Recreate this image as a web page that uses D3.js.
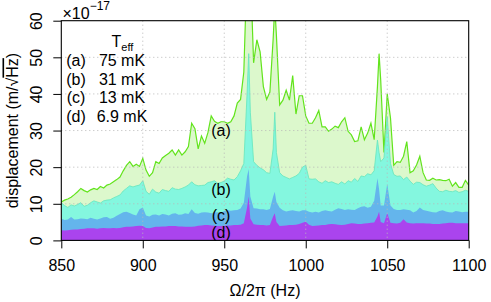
<!DOCTYPE html>
<html>
<head>
<meta charset="utf-8">
<script src="https://cdn.jsdelivr.net/npm/d3@7/dist/d3.min.js"></script>
<style>
    body { margin: 0; background: #fff; }
    text { font-family: "Liberation Sans", Arial, Helvetica, sans-serif; fill: #000; }
</style>
</head>
<body>
<svg id="chart" width="491" height="302"></svg>
<script>
// frequency grid (Hz): 2 Hz steps, plus a point on each narrow peak
var freq = [
    850, 852, 854, 856, 858,
    860, 862, 864, 866, 868,
    870, 872, 874, 876, 878,
    880, 882, 884, 886, 888,
    890, 892, 894, 896, 898,
    900, 902, 904, 906, 908,
    910, 912, 914, 916, 918,
    920, 922, 924, 926, 928,
    930, 932, 934, 936, 938,
    940, 942, 944, 946, 948,
    950, 952, 954, 956, 958,
    960, 962, 964, 965, 966, 968,
    970, 972, 974, 976, 978,
    980, 981, 982, 984, 986, 988,
    990, 992, 994, 996, 998,
    1000, 1002, 1004, 1006, 1008,
    1010, 1012, 1014, 1016, 1018,
    1020, 1022, 1024, 1026, 1028,
    1030, 1032, 1034, 1036, 1038,
    1040, 1042, 1044, 1045, 1046, 1048,
    1050, 1052, 1054, 1056, 1058,
    1060, 1062, 1064, 1066, 1068,
    1070, 1072, 1074, 1076, 1078,
    1080, 1082, 1084, 1086, 1088,
    1090, 1092, 1094, 1096, 1098,
    1100
];

// displacement spectra, units of 1e-17 m/sqrt(Hz)
// (a) Teff = 75 mK
var specA = [
    10.5, 11.0, 11.3, 11.8, 12.5,
    13.3, 14.2, 13.6, 13.2, 13.8,
    14.2, 13.9, 14.7, 14.3, 15.1,
    15.4, 16.0, 16.6, 17.3, 19.0,
    20.5, 21.5, 20.2, 20.8, 20.2,
    22.4, 19.2, 17.5, 18.5, 21.5,
    21.0, 22.5, 23.2, 23.8, 24.7,
    23.3, 24.7, 23.3, 24.2, 25.6,
    32.0, 30.5, 25.0, 28.5, 26.5,
    29.5, 34.0, 32.5, 32.0, 32.4,
    32.4, 32.0, 32.4, 34.0, 37.5,
    38.5, 46.0, 75.0, 80.0, 75.0, 48.5,
    54.8, 51.5, 42.0, 38.5, 40.5,
    55.0, 64.0, 56.0, 37.0, 38.3, 41.0,
    38.3, 45.0, 34.5, 39.5, 39.5,
    34.0, 32.0, 32.0, 33.5, 35.5,
    31.0, 31.0, 29.8, 30.4, 31.2,
    30.8, 32.4, 33.5, 29.8, 28.8,
    27.0, 27.2, 31.0, 27.5, 29.3,
    32.0, 27.5, 42.0, 51.0, 43.8, 24.0,
    40.0, 33.5, 20.5, 21.5, 21.3,
    23.0, 27.0, 18.5, 19.0, 20.6,
    23.0, 18.5, 16.5, 16.4, 17.0,
    16.5, 16.6, 16.4, 16.3, 16.7,
    14.8, 15.8, 14.5, 14.5, 16.4,
    15.1
];
// (b) Teff = 31 mK
var specB = [
    10.3, 9.5, 9.0, 9.7, 9.4,
    9.8, 10.3, 9.3, 9.6, 10.3,
    10.8, 10.5, 10.2, 10.8, 11.0,
    11.1, 11.6, 12.0, 12.4, 13.5,
    14.2, 14.9, 14.6, 14.9, 15.1,
    16.3, 13.4, 12.6, 14.0, 13.2,
    12.9, 13.9, 13.6, 13.4, 14.4,
    14.0, 13.9, 14.2, 14.6, 15.1,
    16.0, 15.2, 14.9, 15.0, 15.1,
    15.8, 16.0, 16.3, 15.6, 15.8,
    16.2, 17.0, 16.7, 16.5, 17.4,
    19.0, 21.0, 40.0, 51.0, 35.0, 21.5,
    20.5, 19.8, 19.3, 18.5, 18.3,
    25.0, 35.0, 24.0, 18.5, 17.6, 17.2,
    16.8, 17.2, 17.6, 18.3, 20.0,
    20.5, 16.8, 16.7, 16.8, 16.0,
    15.6, 16.3, 15.8, 16.0, 15.6,
    15.3, 16.0, 15.4, 16.3, 15.9,
    16.9, 16.1, 17.6, 17.4, 18.2,
    17.9, 19.0, 27.4, 24.0, 21.5, 22.5,
    33.8, 21.0, 18.0, 17.5, 17.6,
    16.6, 17.3, 16.2, 15.3, 15.9,
    15.8, 15.2, 14.8, 15.1, 15.5,
    14.3, 13.4, 13.3, 13.7, 13.4,
    13.3, 13.6, 13.1, 13.3, 13.7,
    13.4
];
// (c) Teff = 13 mK
var specC = [
    6.0, 5.6, 5.7, 6.4, 5.7,
    5.8, 6.0, 5.9, 5.8, 6.2,
    5.9, 5.7, 6.0, 6.3, 6.4,
    5.9, 6.2, 6.7, 7.2, 7.7,
    7.8, 7.5, 7.1, 6.8, 8.5,
    9.0, 6.8, 6.5, 7.0, 7.1,
    6.8, 7.2, 7.1, 6.8, 7.3,
    7.4, 7.0, 7.1, 7.4, 7.2,
    8.5, 7.5, 7.3, 7.6, 7.7,
    7.6, 7.4, 7.6, 7.7, 7.5,
    8.0, 8.3, 8.1, 8.2, 8.3,
    8.7, 10.3, 17.5, 19.5, 12.0, 8.8,
    8.7, 8.5, 8.5, 8.3, 8.6,
    12.0, 13.3, 10.5, 8.9, 8.2, 7.9,
    8.1, 8.2, 8.0, 7.9, 8.2,
    8.2, 7.8, 7.6, 7.8, 7.6,
    8.0, 8.2, 8.0, 7.9, 8.4,
    8.8, 8.6, 8.3, 8.5, 8.4,
    8.3, 8.8, 9.2, 9.3, 8.9,
    9.2, 10.8, 17.0, 14.0, 9.5, 9.5,
    15.5, 9.5, 8.6, 8.3, 8.3,
    8.5, 8.4, 8.2, 7.6, 8.0,
    9.0, 8.3, 8.1, 7.9, 7.7,
    7.6, 8.0, 8.2, 7.9, 7.7,
    7.6, 8.0, 7.9, 7.7, 7.8,
    7.8
];
// (d) Teff = 6.9 mK
var specD = [
    2.8, 2.7, 2.8, 2.9, 3.0,
    3.0, 3.1, 3.2, 3.3, 3.3,
    3.3, 3.2, 3.3, 3.4, 3.3,
    3.3, 3.4, 3.3, 3.4, 3.6,
    3.7, 3.7, 3.8, 3.9, 4.0,
    3.9, 3.4, 3.3, 3.5, 3.7,
    3.7, 3.8, 3.8, 3.9, 3.9,
    3.9, 3.8, 3.8, 3.7, 3.7,
    3.7, 3.8, 4.0, 4.1, 4.2,
    4.2, 4.1, 4.0, 3.9, 3.9,
    4.0, 4.1, 4.1, 4.2, 4.2,
    4.3, 4.7, 9.0, 12.0, 6.0, 4.4,
    4.3, 4.2, 4.2, 4.1, 4.2,
    6.5, 7.4, 5.0, 3.9, 4.0, 4.1,
    4.2, 4.2, 4.3, 4.5, 4.8,
    5.1, 4.3, 3.9, 4.0, 4.1,
    4.2, 4.2, 4.4, 4.5, 4.4,
    4.3, 4.2, 4.3, 4.5, 4.7,
    4.6, 4.5, 4.5, 4.6, 4.7,
    4.8, 4.9, 6.5, 7.8, 5.0, 4.7,
    7.4, 4.8, 4.7, 4.6, 4.8,
    5.8, 4.9, 4.7, 4.6, 4.7,
    4.7, 4.7, 4.6, 4.6, 4.5,
    4.5, 4.5, 4.6, 4.7, 4.8,
    4.8, 4.7, 4.7, 4.7, 4.7,
    4.7
];

var seriesNames = ["(a)", "(b)", "(c)", "(d)"];
var tempLabels = ["75 mK", "31 mK", "13 mK", "6.9 mK"];
var xTicks = [850, 900, 950, 1000, 1050, 1100];
var yTicks = [0, 10, 20, 30, 40, 50, 60];

var W = 491, H = 302;
var margin = {left: 61.3, right: 22.3, top: 20.7, bottom: 61.6};
var pw = W - margin.left - margin.right;
var ph = H - margin.top - margin.bottom;
var fs = "16px";

var svg = d3.select("#chart");
var g = svg.append("g").attr("transform", "translate(" + margin.left + "," + margin.top + ")");

var x = d3.scaleLinear().domain([850, 1100]).range([0, pw]);
var y = d3.scaleLinear().domain([0, 60]).range([ph, 0]);

svg.append("defs").append("clipPath").attr("id", "clip")
    .append("rect").attr("width", pw).attr("height", ph);

var plot = g.append("g").attr("clip-path", "url(#clip)");

function area(vals) {
    return d3.area()
        .x(function (d, i) { return x(freq[i]); })
        .y0(y(0))
        .y1(function (d) { return y(d); })(vals);
}
function line(vals) {
    return d3.line()
        .x(function (d, i) { return x(freq[i]); })
        .y(function (d) { return y(d); })(vals);
}

// filled spectra, hottest first
plot.append("path").attr("d", area(specA)).attr("fill", "#dcf8cc");
plot.append("path").attr("d", line(specA)).attr("fill", "none")
    .attr("stroke", "#62e41c").attr("stroke-width", 1.2);
plot.append("path").attr("d", area(specB)).attr("fill", "#84f7df");
plot.append("path").attr("d", line(specB)).attr("fill", "none")
    .attr("stroke", "#6ce8c0").attr("stroke-width", 0.9);
plot.append("path").attr("d", area(specC)).attr("fill", "#64b5ec");
plot.append("path").attr("d", area(specD)).attr("fill", "#aa44ee");

// dotted grid
g.selectAll(".vg").data(xTicks.slice(1, -1)).enter().append("line")
    .attr("x1", function (d) { return x(d); }).attr("x2", function (d) { return x(d); })
    .attr("y1", 0).attr("y2", ph)
    .attr("stroke", "#b8b8b8").attr("stroke-dasharray", "1,3");
g.selectAll(".hg").data(yTicks.slice(1, -1)).enter().append("line")
    .attr("x1", 0).attr("x2", pw)
    .attr("y1", function (d) { return y(d); }).attr("y2", function (d) { return y(d); })
    .attr("stroke", "#b8b8b8").attr("stroke-dasharray", "1,3");

// frame
g.append("rect").attr("width", pw).attr("height", ph)
    .attr("fill", "none").attr("stroke", "#000").attr("stroke-width", 1.1);

// axes
var xAxis = g.append("g").attr("transform", "translate(0," + ph + ")")
    .call(d3.axisBottom(x).tickValues(xTicks).tickSize(8).tickFormat(d3.format("d")));
xAxis.select(".domain").remove();
xAxis.selectAll("text").attr("y", 30.5).attr("dy", 0)
    .style("font-size", fs);

var yAxis = g.append("g")
    .call(d3.axisLeft(y).tickValues(yTicks).tickSize(8));
yAxis.select(".domain").remove();
yAxis.selectAll("text")
    .attr("transform", "rotate(-90)")
    .attr("x", 0).attr("y", -19.8).attr("dy", 0)
    .style("text-anchor", "middle").style("font-size", fs);

// exponent
var ex = svg.append("text").attr("x", 62.5).attr("y", 18.5).style("font-size", fs);
ex.append("tspan").text("\u00d710");
ex.append("tspan").attr("dy", -8.5).style("font-size", "12px").text("\u221217");

// axis titles
svg.append("text")
    .attr("x", margin.left + pw / 2).attr("y", 295.5)
    .style("text-anchor", "middle").style("font-size", fs)
    .text("\u03a9/2\u03c0 (Hz)");

var yt = svg.append("text")
    .attr("transform", "translate(17.5," + (margin.top + ph / 2) + ") rotate(-90)")
    .style("text-anchor", "middle").style("font-size", fs);
yt.append("tspan").text("displacement (m/\u221a");
yt.append("tspan").style("text-decoration", "overline").text("Hz");
yt.append("tspan").text(")");

// legend
var teff = svg.append("text").attr("x", 111.5).attr("y", 46.8).style("font-size", fs);
teff.append("tspan").text("T");
teff.append("tspan").attr("dy", 4).style("font-size", "11px").text("eff");

var rowY = [65.5, 84.5, 103, 122];
seriesNames.forEach(function (n, i) {
    svg.append("text").attr("x", 76).attr("y", rowY[i])
        .style("text-anchor", "middle").style("font-size", fs).text(n);
    svg.append("text").attr("x", 122).attr("y", rowY[i])
        .style("text-anchor", "middle").style("font-size", fs).text(tempLabels[i]);
});

// labels on the curves
var labelY = [136, 194.5, 221, 237.5];
seriesNames.forEach(function (n, i) {
    svg.append("text").attr("x", 221).attr("y", labelY[i])
        .style("text-anchor", "middle").style("font-size", fs).text(n);
});
</script>
</body>
</html>
